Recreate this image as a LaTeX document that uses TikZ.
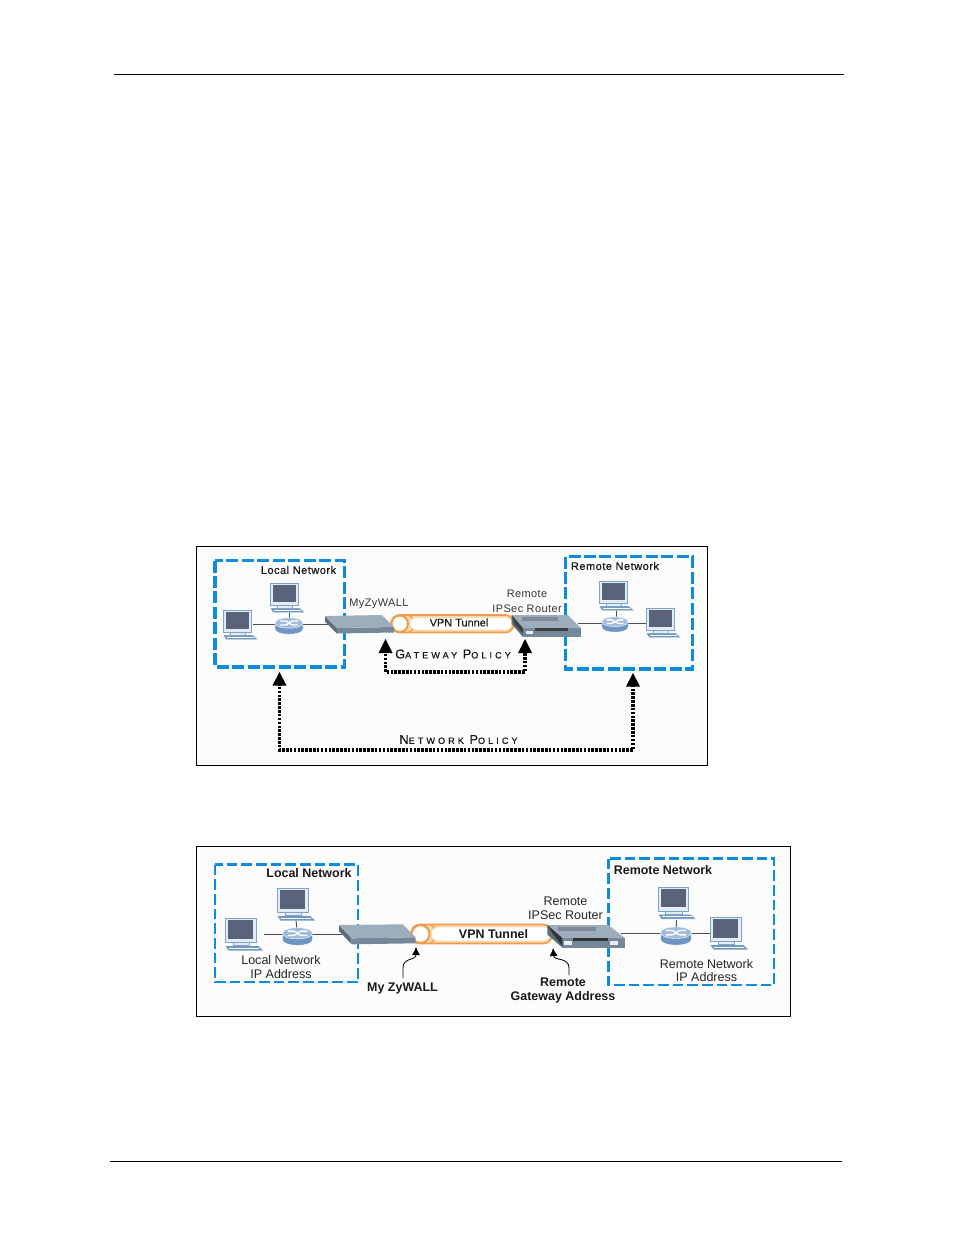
\documentclass[tikz,border=0pt]{standalone}
\usepackage{fontspec}
\setmainfont{Liberation Sans}
\usetikzlibrary{arrows.meta}
\definecolor{netblue}{HTML}{0C8CDC}
\definecolor{linkgray}{HTML}{4A4F55}
\definecolor{screen}{HTML}{596379}
\definecolor{framecol}{HTML}{7FA3C6}
\definecolor{framefill}{HTML}{E4EDF5}
\definecolor{kbcol}{HTML}{6F98C2}
\definecolor{routercol}{HTML}{6F95C2}
\definecolor{routertop}{HTML}{A3BEDB}
\definecolor{devtop}{HTML}{9DADBC}
\definecolor{devfront}{HTML}{75889A}
\definecolor{devside}{HTML}{5D6D7B}
\definecolor{orangeline}{HTML}{EE9C4C}
\definecolor{orangefill}{HTML}{FAD7AC}
\newcommand{\tunnelshape}[4]{%
  \pgfmathsetmacro{\tunh}{#4-#2}
  \pgfmathsetmacro{\tunm}{(#4+#2)/2}
  \path[draw=orangeline,fill=orangefill,line width=1.2pt,rounded corners=6.5pt] (#1,#2) rectangle (#3,#4);
  \path[draw=orangeline,fill=orangefill,line width=.9pt] ({#1+\tunh*.9},\tunm) ellipse[x radius=\tunh*.42,y radius=\tunh*.5];
  \path[fill=white,rounded corners=4.5pt] ({#1+\tunh*1.1},{#2+2.8}) rectangle ({#3-2.5},{#4-2.8});
  \path[draw=orangeline,fill=white,line width=1.5pt] ({#1+\tunh*.5},\tunm) circle[radius=\tunh*.47];
}
\tikzset{
  x=0.75pt,y=-0.75pt,
  frame/.style={draw=black,line width=.6pt,fill=black!1},
  netbox/.style={draw=netblue,line width=2.6pt,dash pattern=on 9pt off 2.6pt},
  netboxb/.style={draw=netblue,line width=2.2pt,dash pattern=on 8pt off 3pt},
  link/.style={draw=linkgray,line width=.7pt},
  policy/.style={draw=black,line width=2.5pt,dash pattern=on 1.9pt off 1pt},
  tiphead/.style={fill=black,draw=none},
  rule/.style={draw=black,line width=.6pt},
  lab/.style={inner sep=0pt,align=center,text=black!85,font=\fontsize{9.4}{10.4}\selectfont},
  labs/.style={inner sep=0pt,align=center,text=black!80,font=\fontsize{8.2}{10.2}\selectfont\addfontfeature{LetterSpace=4}},
  titlea/.style={inner sep=0pt,text=black!90,font=\fontsize{8.2}{10}\selectfont\addfontfeature{LetterSpace=5,FakeBold=.6}},
  boldlab/.style={inner sep=0pt,align=center,text=black!90,font=\fontsize{9.35}{10.5}\selectfont\bfseries},
  sclab/.style={inner sep=0pt,text=black!90,font=\fontsize{6.8}{8}\selectfont\addfontfeature{LetterSpace=34,FakeBold=.5}},
  computer/.pic={
    \path[fill=kbcol,draw=white,line width=.3pt] (0,25)--(30,25)--(35,29.5)--(3,29.5)--cycle;
    \path[draw=white,line width=.4pt] (4,27)--(31,27);
    \path[fill=framefill,draw=framecol,line width=.4pt] (7,21) rectangle (22,25);
    \path[fill=framefill,draw=framecol,line width=.6pt] (0,0) rectangle (28,22);
    \path[fill=screen] (3,2) rectangle (25.5,18.5);
  },
  router/.pic={
    \path[fill=routercol,draw=white,line width=.3pt] (-14,-3) -- (-14,3) .. controls (-14,10) and (14,10) .. (14,3) -- (14,-3) -- cycle;
    \path[fill=routertop,draw=white,line width=.3pt] (-14,-3) .. controls (-14,-10) and (14,-10) .. (14,-3) .. controls (14,4) and (-14,4) .. (-14,-3) -- cycle;
    \path[draw=white,line width=1pt] (-9,-5)--(-4,-5) to[out=0,in=180] (4,-1) -- (9,-1);
    \path[draw=white,line width=1pt] (-9,-1)--(-4,-1) to[out=0,in=180] (4,-5) -- (9,-5);
  },
}
% firewall: back-left, back-right, front-right, front-left top corners + front height
\newcommand{\firewall}[9]{%
  \path[fill=devside] (#1,#2)--(#7,#8)--(#7,{#8+#9})--(#1,{#2+#9})--cycle;
  \path[fill=devfront] (#7,#8)--(#5,#6)--(#5,{#6+#9})--(#7,{#8+#9})--cycle;
  \path[fill=devtop] (#1,#2)--(#3,#4)--(#5,#6)--(#7,#8)--cycle;
}
\begin{document}
\begin{tikzpicture}
\useasboundingbox (0,0) rectangle (954,1235);
\fill[white] (0,0) rectangle (954,1235);
\coordinate (hl) at (114,74.5); \coordinate (hr) at (844,74.5);
\coordinate (fl) at (110,1161.5); \coordinate (fr) at (842,1161.5);
\draw[rule] (hl)--(hr);
\draw[rule] (fl)--(fr);

% ================= upper diagram =================
\path[frame] (196.5,546.5) rectangle (707.5,765.5);
\draw[netbox] (215,560.5) rectangle (344.5,667);
\draw[netbox] (565.5,556.5) rectangle (692.5,669);

\coordinate (r1) at (289,626);
\coordinate (c1a) at (289,610);
\coordinate (c1b) at (253,624);
\coordinate (z1) at (330,624);
\coordinate (r2) at (616.5,624.5);
\coordinate (c2a) at (616.5,609);
\coordinate (c2b) at (646,623);
\coordinate (d2) at (578,623);
\draw[link] (c1b)--(z1);
\draw[link] (c1a)--(r1);
\draw[link] (d2)--(c2b);
\draw[link] (c2a)--(r2);

\pic at (270,583) {computer};
\pic at (223,610) {computer};
\pic at (599,581) {computer};
\pic at (646,608) {computer};
\pic at (289,626) {router};
\pic[scale=.93] at (615,624.5) {router};

\tunnelshape{391}{615}{514}{632.5}
\firewall{325}{616}{381.7}{615}{394}{627}{337}{628}{5.5}
% remote device
\firewall{511.7}{615}{568}{615}{581}{628}{523}{628}{9}
\fill[devtop!80!black] (522,616.5) rectangle (558,621);
\fill[black!75] (535,628) rectangle (568,630.5);
\fill[white!85!devfront] (526,631) rectangle (533,634);
\fill[black!75] (511.7,615)--(523,628)--(523,633)--(515,625)--cycle;

\node[titlea] (t1) at (298.5,570) {Local Network};
\node[titlea] (t2) at (615,566) {Remote Network};
\node[labs] (t3) at (379,603.5) {MyZyWALL};
\node[labs] (t4) at (527,601.5) {Remote\\[1pt]IPSec Router};
\node[inner sep=0pt,font=\fontsize{8.2}{10}\selectfont\addfontfeature{FakeBold=.3},text=black!90] (t5) at (459,622.5) {VPN Tunnel};

% gateway policy
\coordinate (g1) at (385.5,650); \coordinate (g2) at (385.5,672);
\coordinate (g3) at (525,672);   \coordinate (g4) at (525,650);
\draw[policy] (g1)--(g2)--(g3)--(g4);
\fill[tiphead] (385.5,639)--(392.5,653)--(378.5,653)--cycle;
\fill[tiphead] (525,639)--(532,653)--(518,653)--cycle;
\node[sclab] (t6) at (453,654) {{\fontsize{9.6}{8}\selectfont G}ATEWAY {\fontsize{9.6}{8}\selectfont P}OLICY};

% network policy
\coordinate (n1) at (279.5,683); \coordinate (n2) at (279.5,750);
\coordinate (n3) at (633,750);   \coordinate (n4) at (633,684);
\draw[policy] (n1)--(n2)--(n3)--(n4);
\fill[tiphead] (279.5,672)--(286.5,685.5)--(272.5,685.5)--cycle;
\fill[tiphead] (633,673)--(640,686.5)--(626,686.5)--cycle;
\node[sclab] (t7) at (458.5,739.5) {{\fontsize{9.6}{8}\selectfont N}ETWORK {\fontsize{9.6}{8}\selectfont P}OLICY};

% ================= lower diagram =================
\path[frame] (196.5,846.5) rectangle (790.5,1016.5);
\draw[netboxb] (215,864.5) rectangle (358,982);
\draw[netboxb] (608.5,858.5) rectangle (774,985);

\coordinate (lr) at (297.5,936);
\coordinate (lca) at (296,920);
\coordinate (lcb) at (264,934);
\coordinate (lz) at (345,934);
\coordinate (rr) at (676,936);
\coordinate (rca) at (676.5,920);
\coordinate (rcb) at (711,933);
\coordinate (rd) at (621,933);
\draw[link] (lcb)--(lz);
\draw[link] (lca)--(lr);
\draw[link] (rd)--(rcb);
\draw[link] (rca)--(rr);

\pic[scale=1.11] at (277,888) {computer};
\pic[scale=1.11] at (225,918) {computer};
\pic[scale=1.09] at (658,887) {computer};
\pic[scale=1.11] at (710,917) {computer};
\pic[scale=1.07] at (297.5,936.5) {router};
\pic[scale=1.1] at (676,936) {router};

\tunnelshape{411}{924.5}{552}{943.5}
\firewall{339}{925}{402.7}{924.3}{415.7}{937.3}{351.7}{938.3}{6}
\firewall{547.3}{925}{608.3}{925}{625}{938}{562.3}{938}{9.5}
\fill[devtop!80!black] (558,926.5) rectangle (596,931);
\fill[black!80] (573,938) rectangle (608,941);
\fill[white!85!devfront] (564,941) rectangle (572,944.5);
\fill[white!85!devfront] (610,941) rectangle (618,944.5);
\fill[black!80] (547.3,925)--(562.3,938)--(562.3,946)--(553,934)--cycle;

\node[boldlab] (u1) at (309,873) {Local Network};
\node[boldlab] (u2) at (663,870) {Remote Network};
\node[lab] (u3) at (281,967) {Local Network\\IP Address};
\node[lab] (u4) at (706.5,970.5) {Remote Network\\IP Address};
\node[lab] (u5) at (565.5,908.5) {Remote\\IPSec Router};
\node[boldlab] (u6) at (493.5,934) {VPN Tunnel};
\node[boldlab] (u7) at (402.5,988) {My ZyWALL};
\node[boldlab] (u8) at (563,990) {Remote\\Gateway Address};

\coordinate (a1) at (403,978); \coordinate (a2) at (416,947);
\coordinate (b1) at (569,975); \coordinate (b2) at (553,948);
\draw[black,line width=.6pt,-{Latex[length=6pt,width=6pt]}] (a1) -- (403,968) .. controls (403,957) and (416,961) .. (a2);
\draw[black,line width=.6pt,-{Latex[length=6pt,width=6pt]}] (b1) -- (569,968) .. controls (569,957) and (554,961) .. (b2);
\end{tikzpicture}
\end{document}
